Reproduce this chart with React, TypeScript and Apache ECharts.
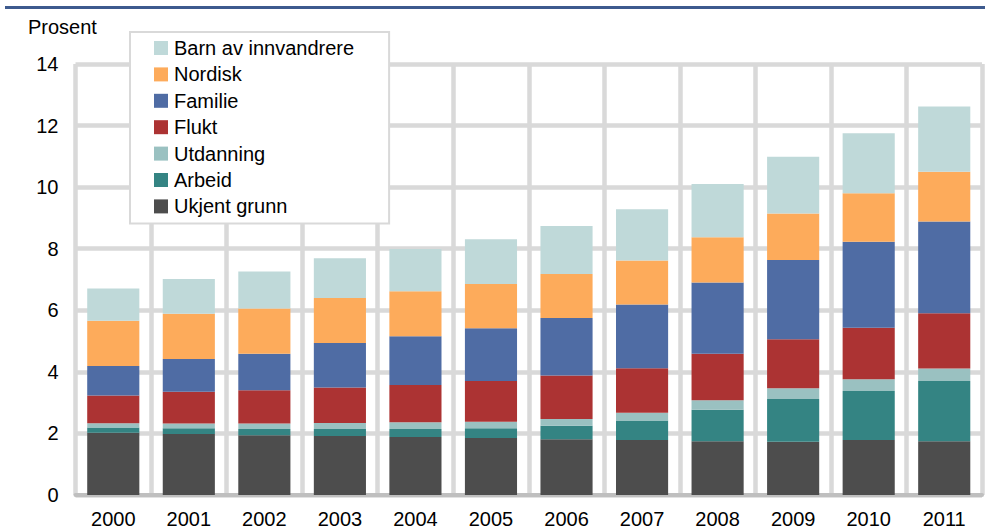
import React, { useEffect, useRef } from "react";
import * as echarts from "echarts";

const years = ["2000", "2001", "2002", "2003", "2004", "2005", "2006", "2007", "2008", "2009", "2010", "2011"];
const ukjentGrunn = [2.02, 1.98, 1.94, 1.92, 1.88, 1.85, 1.81, 1.79, 1.75, 1.73, 1.79, 1.75];
const arbeid = [0.17, 0.19, 0.2, 0.22, 0.26, 0.32, 0.44, 0.63, 1.02, 1.39, 1.59, 1.95];
const utdanning = [0.14, 0.15, 0.18, 0.2, 0.22, 0.21, 0.22, 0.25, 0.31, 0.35, 0.38, 0.41];
const flukt = [0.9, 1.03, 1.08, 1.15, 1.21, 1.32, 1.41, 1.45, 1.51, 1.59, 1.67, 1.79];
const familie = [0.96, 1.07, 1.19, 1.45, 1.59, 1.72, 1.87, 2.07, 2.31, 2.57, 2.8, 2.98];
const nordisk = [1.47, 1.47, 1.47, 1.46, 1.46, 1.43, 1.43, 1.43, 1.47, 1.51, 1.57, 1.62];
const barnAvInnvandrere = [1.05, 1.13, 1.2, 1.29, 1.37, 1.46, 1.56, 1.66, 1.73, 1.85, 1.95, 2.12];
const yTicks = [0, 2, 4, 6, 8, 10, 12, 14];

const seriesDefs = [
  { name: "Ukjent grunn", data: ukjentGrunn, color: "#4d4d4d" },
  { name: "Arbeid", data: arbeid, color: "#348483" },
  { name: "Utdanning", data: utdanning, color: "#9ac1c1" },
  { name: "Flukt", data: flukt, color: "#ac3333" },
  { name: "Familie", data: familie, color: "#4f6ca4" },
  { name: "Nordisk", data: nordisk, color: "#fdab5b" },
  { name: "Barn av innvandrere", data: barnAvInnvandrere, color: "#bfd9d9" },
];

const FONT = "Liberation Sans, Arial, sans-serif";

export default function App() {
  const ref = useRef<HTMLDivElement>(null);
  useEffect(() => {
    if (!ref.current) return;
    const chart = echarts.init(ref.current, null, { renderer: "svg" });
    chart.setOption({
      animation: false,
      backgroundColor: "#ffffff",
      textStyle: { fontFamily: FONT },
      grid: { left: 75.5, right: 3, top: 64, bottom: 35, containLabel: false },
      graphic: [
        {
          type: "rect",
          shape: { x: 5, y: 6, width: 980, height: 3 },
          style: { fill: "#3d5a8e" },
          silent: true,
        },
        {
          type: "text",
          left: 28,
          top: 17,
          style: { text: "Prosent", fontSize: 20, fontFamily: FONT, fill: "#000" },
        },
      ],
      legend: {
        orient: "vertical",
        left: 130,
        top: 32,
        data: seriesDefs.map((s) => s.name).reverse(),
        itemWidth: 14,
        itemHeight: 14,
        itemGap: 6.4,
        padding: [6, 35, 7, 24],
        backgroundColor: "#ffffff",
        borderColor: "#d9d9d9",
        borderWidth: 2,
        icon: "rect",
        textStyle: { fontSize: 20, fontFamily: FONT, color: "#000", padding: [0, 0, 0, 1] },
        z: 10,
      },
      xAxis: {
        type: "category",
        data: years,
        axisLine: { show: true, lineStyle: { color: "#bfbfbf", width: 4 } },
        axisTick: { show: false },
        axisLabel: { fontSize: 20, color: "#000", margin: 14, fontFamily: FONT },
        splitLine: { show: true, lineStyle: { color: "#d9d9d9", width: 4.5 } },
      },
      yAxis: {
        type: "value",
        min: yTicks[0],
        max: yTicks[yTicks.length - 1],
        interval: 2,
        axisLine: { show: false },
        axisTick: { show: false },
        axisLabel: { fontSize: 20, color: "#000", margin: 17, fontFamily: FONT },
        splitLine: { show: true, lineStyle: { color: "#d9d9d9", width: 4.5 } },
      },
      series: seriesDefs.map((s) => ({
        name: s.name,
        type: "bar",
        stack: "total",
        data: s.data,
        barCategoryGap: "31%",
        itemStyle: { color: s.color },
        emphasis: { disabled: true },
      })),
    });
    return () => chart.dispose();
  }, []);
  return (
    <div
      ref={ref}
      style={{ position: "absolute", left: 0, top: 0, width: 985, height: 530 }}
    />
  );
}
